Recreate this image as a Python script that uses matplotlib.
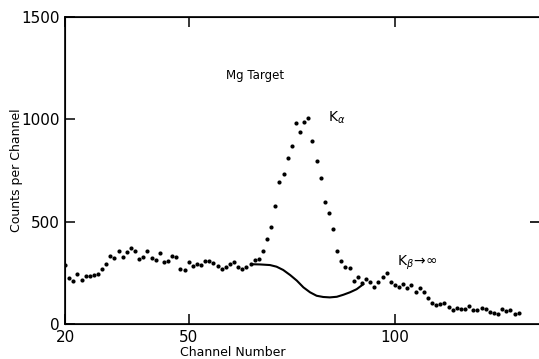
import matplotlib.pyplot as plt
import numpy as np

# channel number and measured counts per channel (Mg target)
channels = np.arange(20, 131)
counts = [
    288, 223, 212, 243, 215, 236, 236, 241, 244, 267,   # 20-29
    293, 334, 321, 357, 329, 350, 373, 358, 316, 327,   # 30-39
    358, 321, 314, 348, 303, 309, 334, 326, 269, 264,   # 40-49
    301, 283, 292, 288, 309, 308, 300, 285, 270, 278,   # 50-59
    292, 304, 277, 270, 277, 293, 314, 319, 358, 414,   # 60-69
    472, 578, 692, 731, 809, 870, 980, 939, 985, 1005,  # 70-79
    895, 796, 715, 598, 541, 464, 355, 309, 277, 272,   # 80-89
    210, 232, 202, 220, 207, 182, 204, 228, 248, 204,   # 90-99
    191, 182, 195, 174, 191, 158, 174, 158, 126, 104,   # 100-109
    93, 98, 104, 85, 70, 80, 74, 73, 88, 70,            # 110-119
    68, 78, 72, 60, 55, 49, 72, 62, 68, 49,             # 120-129
    53,                                                 # 130
]

# hand-drawn background line under the K-alpha peak
bg_channels = [65.3, 67.3, 69.7, 71.3, 72.9, 74.6, 76.2, 77.8, 79.4,
               81.0, 82.6, 84.2, 85.9, 87.5, 89.1, 90.7, 92.3]
bg_counts = [292, 291, 288, 280, 264, 239, 212, 179, 155,
             138, 132, 130, 133, 143, 155, 170, 194]

x_ticks = [20, 50, 100]
y_ticks = [0, 500, 1000, 1500]

plt.rcParams['font.family'] = 'DejaVu Sans'

fig = plt.figure(figsize=(5.39, 3.59), dpi=100)
ax = fig.add_axes([0.1206, 0.0975, 0.8831, 0.8551])

ax.plot(channels, counts, 'o', color='black', markersize=3.0, markeredgewidth=0)
ax.plot(bg_channels, bg_counts, '-', color='black', linewidth=1.5)

ax.set_xlim(20, 135.4)
ax.set_ylim(0, 1500)
ax.set_xticks(x_ticks)
ax.set_yticks(y_ticks)
ax.tick_params(direction='in', length=7.5, width=1.1, labelsize=11, pad=4,
               top=True, right=False)

for spine in ax.spines.values():
    spine.set_linewidth(1.2)

# single inside tick on the right-hand side
ax_r = ax.twinx()
ax_r.set_ylim(0, 1500)
ax_r.set_yticks([500])
ax_r.set_yticklabels([])
ax_r.tick_params(direction='in', length=8, width=1.2)

ax.set_xlabel('Channel Number', fontsize=9)
ax.xaxis.set_label_coords(0.353, -0.072)
ax.set_ylabel('Counts per Channel', fontsize=9)
ax.yaxis.set_label_coords(-0.088, 0.5)

ax.text(66.1, 1216, 'Mg Target', fontsize=8.5, ha='center', va='center')
ax.text(83.8, 1006, r'K$_\alpha$', fontsize=10, ha='left', va='center')
ax.text(100.5, 298, r'K$_\beta\!\rightarrow\!\infty$', fontsize=10,
        ha='left', va='center')

plt.savefig('out.png', dpi=100)
plt.close()
